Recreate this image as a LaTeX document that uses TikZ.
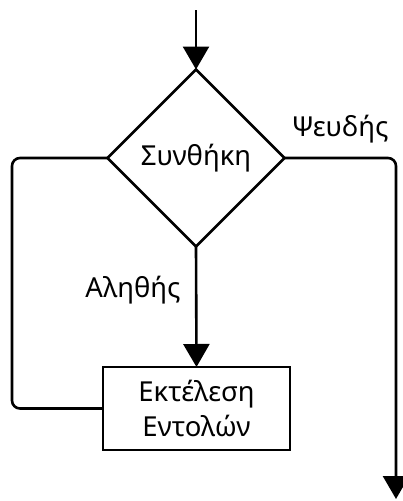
\documentclass[tikz,border=0pt]{standalone}
\usepackage{fontspec}
\setmainfont{Noto Sans}
\usetikzlibrary{shapes.geometric,arrows.meta}
\begin{document}
\begin{tikzpicture}[x=1pt,y=-1pt,
  line/.style={line width=2.6pt},
  arr/.style={line,-{Triangle[length=23pt,width=26pt]}},
  txt/.style={font=\fontsize{27.5}{35}\selectfont},
  decision/.style={diamond,draw,line,minimum width=177pt,minimum height=177pt,inner sep=0pt,outer sep=0pt,txt},
  process/.style={rectangle,draw,line,minimum width=187pt,minimum height=83pt,inner sep=0pt,outer sep=0pt,align=center,txt},
  lbl/.style={txt,inner sep=0pt}]
\useasboundingbox (0,0) rectangle (403,501);
\coordinate (start) at (196,10);
\node[decision] (cond) at (196,158) {Συνθήκη};
\node[process] (body) at (196.5,408.5) {Εκτέλεση\\Εντολών};
\coordinate (lc) at (12,0);
\coordinate (end) at (396,499);
\draw[arr] (start) -- (cond.north);
\draw[arr] (cond.south) -- (body.north);
\draw[line,rounded corners=8pt] (cond.west) -| (lc |- body.west) -- (body.west);
\draw[arr,rounded corners=8pt] (cond.east) -| (end);
\node[lbl] (f) at (340,129) {Ψευδής};
\node[lbl] (t) at (133,290) {Αληθής};
\end{tikzpicture}
\end{document}
